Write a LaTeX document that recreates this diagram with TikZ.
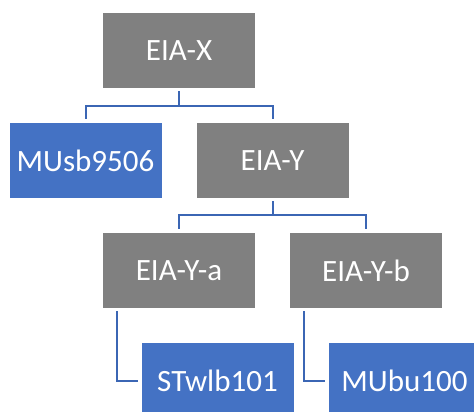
\documentclass[tikz,border=0pt]{standalone}
\usepackage{fontspec}
\setmainfont{Carlito}
\usetikzlibrary{positioning}
\definecolor{boxgray}{HTML}{808080}
\definecolor{boxblue}{HTML}{4472C4}
\definecolor{linkblue}{HTML}{3B66B4}
\tikzset{every picture/.style={line width=0.75pt}}
\tikzset{
  unit/.style={rectangle, fill=boxgray, text=white, minimum width=152pt,
    minimum height=75pt, inner sep=0pt, font=\fontsize{31}{36}\selectfont},
  leaf/.style={unit, fill=boxblue},
  link/.style={draw=linkblue, line width=2pt}
}

\begin{document}
\begin{tikzpicture}[x=1pt,y=-1pt]
\useasboundingbox (0,0) rectangle (474,412);
\begin{scope}
\clip (0,0) rectangle (474,412);
\node[unit] (eiax) at (179,50.5) {EIA-X};
\node[leaf] (musb) at (85.5,160.5) {MUsb9506};
\node[unit] (eiay) at (272.5,160.5) {EIA-Y};
%
\node[unit] (eiaya) at (179,270.5) {EIA-Y-a};
\node[unit] (eiayb) at (366,270.5) {EIA-Y-b};
%
\node[leaf] (stwlb) at (217.5,380.5) {STwlb101};
\node[leaf] (mubu) at (404.5,380.5) {MUbu100};
\end{scope}
%
\coordinate (split1) at (179,106);
\coordinate (split2) at (272.5,215);
\draw[link] ([yshift=-3pt]eiax.south) -- (split1);
\draw[link] (split1) -| ([yshift=4pt]musb.north);
\draw[link] (split1) -| ([yshift=4pt]eiay.north);
%
\draw[link] ([yshift=-3pt]eiay.south) -- (split2);
\draw[link] (split2) -| ([yshift=4pt]eiaya.north);
\draw[link] (split2) -| ([yshift=4pt]eiayb.north);
%
\draw[link] ([xshift=14pt,yshift=-3pt]eiaya.south west) |- ([xshift=-3pt]stwlb.west);
\draw[link] ([xshift=14pt,yshift=-3pt]eiayb.south west) |- ([xshift=-3pt]mubu.west);
\end{tikzpicture}
\end{document}
